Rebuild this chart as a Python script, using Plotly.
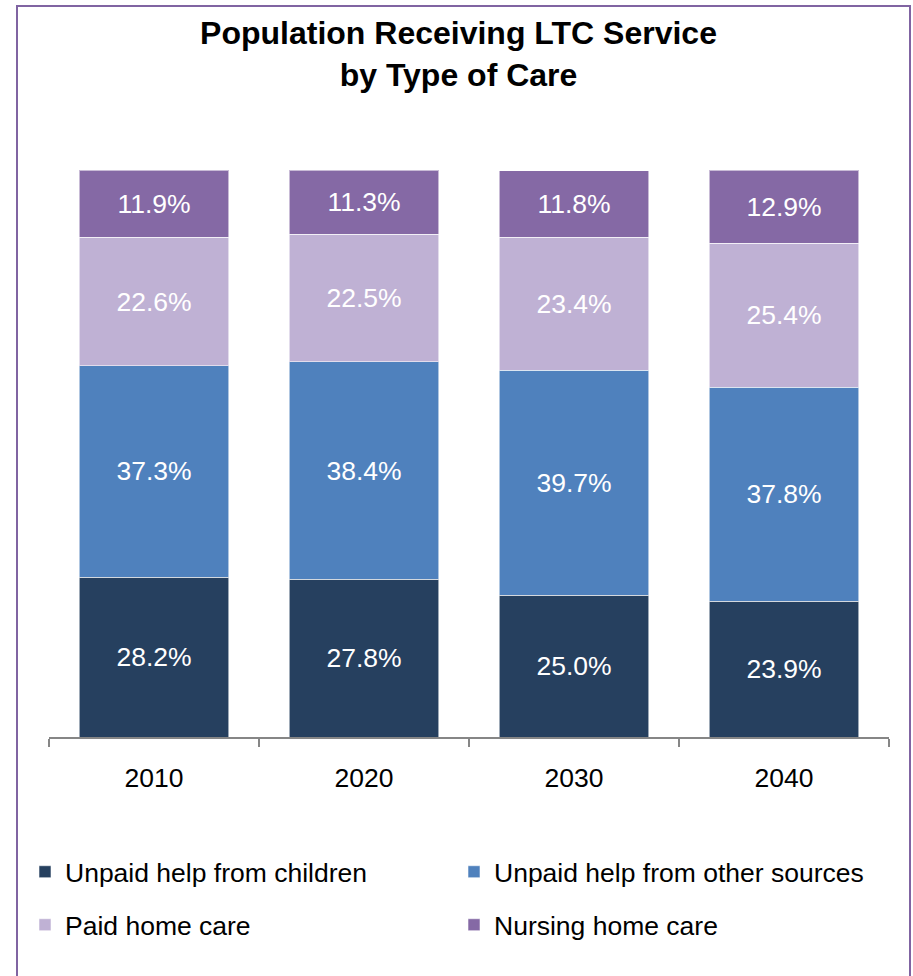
import plotly.graph_objects as go

# Share of the LTC population by type of care (percent)
years = ["2010", "2020", "2030", "2040"]
series_names = [
    "Unpaid help from children",
    "Unpaid help from other sources",
    "Paid home care",
    "Nursing home care",
]
unpaid_children = [28.2, 27.8, 25.0, 23.9]
unpaid_other = [37.3, 38.4, 39.7, 37.8]
paid_home = [22.6, 22.5, 23.4, 25.4]
nursing_home = [11.9, 11.3, 11.8, 12.9]

colors = ["#26405F", "#4F81BD", "#BFB1D4", "#8569A5"]
legend_ids = ["legend", "legend", "legend2", "legend2"]

W, H = 913, 976
M_L, M_R, M_T, M_B = 49, 24, 170, 239
plot_w = W - M_L - M_R
plot_h = H - M_T - M_B


def px_x(x):
    return (x - M_L) / plot_w


def px_y(y):
    return (H - M_B - y) / plot_h


FONT = "Liberation Sans, Arial, sans-serif"
TXT = 26.5

fig = go.Figure()
for name, vals, col, lg in zip(
    series_names, [unpaid_children, unpaid_other, paid_home, nursing_home], colors, legend_ids
):
    fig.add_trace(
        go.Bar(
            x=years,
            y=vals,
            name=name,
            marker=dict(color=col, line=dict(color="rgba(255,255,255,0.55)", width=1)),
            text=[f"{v:.1f}%" for v in vals],
            textposition="inside",
            insidetextanchor="middle",
            textangle=0,
            constraintext="none",
            textfont=dict(color="white", size=TXT, family=FONT),
            legend=lg,
            hoverinfo="skip",
        )
    )

legend_common = dict(
    orientation="h",
    xanchor="left",
    yanchor="middle",
    x=px_x(25),
    entrywidth=384,
    entrywidthmode="pixels",
    font=dict(size=TXT, family=FONT, color="#000000"),
    bgcolor="rgba(0,0,0,0)",
    traceorder="normal",
)

fig.update_layout(
    width=W,
    height=H,
    barmode="stack",
    bargap=0.286,
    paper_bgcolor="white",
    plot_bgcolor="white",
    margin=dict(l=M_L, r=M_R, t=M_T, b=M_B, autoexpand=False),
    title=dict(
        text="Population Receiving LTC Service<br>by Type of Care",
        x=458.5 / W,
        xanchor="center",
        y=1 - 44 / H,
        yanchor="middle",
        font=dict(size=32, family=FONT, color="#000000", weight="bold"),
    ),
    xaxis=dict(
        type="category",
        range=[-0.5, 3.5],
        showline=True,
        linecolor="#868686",
        linewidth=1.5,
        ticks="outside",
        tickson="boundaries",
        ticklen=8,
        tickwidth=1.5,
        tickcolor="#868686",
        ticklabelstandoff=16,
        tickfont=dict(size=TXT, family=FONT, color="#000000"),
        showgrid=False,
        zeroline=False,
        fixedrange=True,
    ),
    yaxis=dict(
        range=[0, 100],
        visible=False,
        showgrid=False,
        zeroline=False,
        fixedrange=True,
    ),
    legend=dict(legend_common, y=px_y(872)),
    legend2=dict(legend_common, y=px_y(925)),
    shapes=[
        dict(
            type="rect",
            xref="paper",
            yref="paper",
            x0=px_x(17),
            x1=px_x(910),
            y0=px_y(990),
            y1=px_y(6),
            line=dict(color="#8064A2", width=2),
            fillcolor="rgba(0,0,0,0)",
            layer="below",
        )
    ],
)

fig.write_html("out.html")
